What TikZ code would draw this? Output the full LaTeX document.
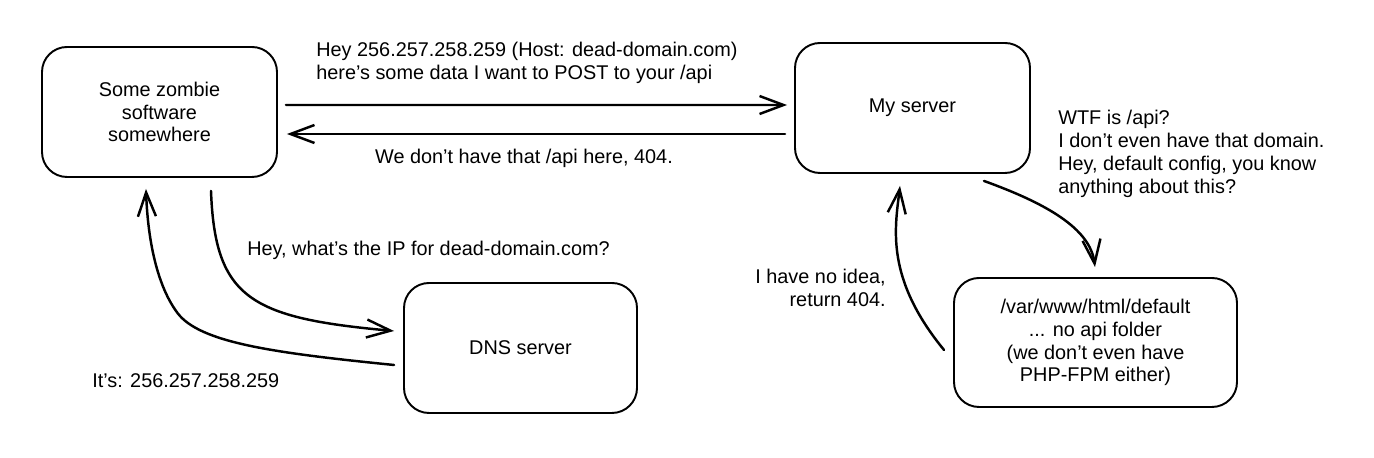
\documentclass[tikz,border=0pt]{standalone}
\usepackage{fontspec}
\setmainfont{Liberation Sans}
\usetikzlibrary{arrows.meta}

\tikzset{
  box/.style={draw, line width=1.1pt, rounded corners=0.5cm, align=center, inner sep=0pt,
    font=\fontsize{11.3}{13}\selectfont},
  note/.style={font=\fontsize{11.3}{13}\selectfont, align=left, inner sep=0pt},
  arr/.style={line width=1.4pt, line cap=round, -{Straight Barb[length=4.8mm,width=3.6mm]}},
}

\begin{document}
\begin{tikzpicture}
  \useasboundingbox (0,0) rectangle (27.48,9.16);
  % the four boxes
  \node[box, minimum width=4.7cm, minimum height=2.6cm] (zombie) at (3.19,6.92) {Some zombie\\software\\somewhere};
  \node[box, minimum width=4.7cm, minimum height=2.6cm] (server) at (18.25,7.0) {My server};
  \node[box, minimum width=4.66cm, minimum height=2.6cm] (dns) at (10.41,2.2) {DNS server};
  \node[box, minimum width=5.66cm, minimum height=2.58cm] (default) at (21.91,2.31) {/var/www/html/default\\... no api folder\\(we don't even have\\PHP-FPM either)};
  % request and answer
  \draw[arr] ([shift={(0.16,0.14)}]zombie.east) -- ([shift={(-0.14,0.06)}]server.west);
  \draw[arr] ([shift={(-0.18,-0.52)}]server.west) -- ([shift={(0.18,-0.44)}]zombie.east);
  % DNS lookup
  \draw[arr] ([shift={(1.03,-0.26)}]zombie.south) .. controls (4.30,3.2) and (5.0,2.8) .. ([shift={(-0.18,0.34)}]dns.west);
  \draw[arr] ([shift={(-0.18,-0.34)}]dns.west) .. controls (5.5,2.1) and (4.0,2.3) .. (3.55,2.9)
    .. controls (3.1,3.5) and (2.95,4.5) .. ([shift={(-0.27,-0.22)}]zombie.south);
  % asking the default config
  \draw[arr] ([shift={(1.43,-0.14)}]server.south) .. controls (20.9,5.1) and (21.8,4.6) .. ([shift={(-0.01,0.2)}]default.north);
  \draw[arr] ([shift={(-0.18,-0.15)}]default.west) .. controls (17.7,3.6) and (17.9,4.6) .. ([shift={(-0.25,-0.24)}]server.south);
  % labels
  \node[note, anchor=west] (post) at (6.32,7.9) {Hey 256.257.258.259 (Host: dead-domain.com)\\here's some data I want to POST to your /api};
  \node[note] (notfound) at (10.48,6.0) {We don't have that /api here, 404.};
  \node[note, anchor=west] (ask) at (4.94,4.16) {Hey, what's the IP for dead-domain.com?};
  \node[note, anchor=west] (ip) at (1.84,1.54) {It's: 256.257.258.259};
  \node[note, anchor=east, align=right] (noidea) at (17.72,3.40) {I have no idea,\\return 404.};
  \node[note, anchor=west] (wtf) at (21.16,6.08) {WTF is /api?\\I don't even have that domain.\\Hey, default config, you know\\anything about this?};
\end{tikzpicture}
\end{document}
